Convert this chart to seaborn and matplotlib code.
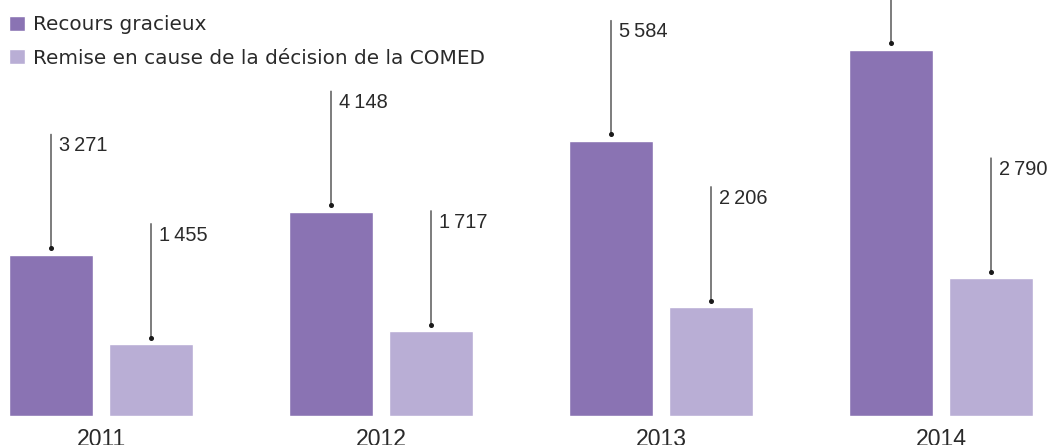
import numpy as np
import pandas as pd
import matplotlib
matplotlib.use("Agg")
import matplotlib.pyplot as plt
import matplotlib.transforms as mtransforms
import seaborn as sns

# ---- data ----
years = ["2011", "2012", "2013", "2014"]
series_names = ["Recours gracieux", "Remise en cause de la décision de la COMED"]
recours_gracieux = [3271, 4148, 5584, 7440]
remise_en_cause = [1455, 1717, 2206, 2790]
colors = ["#8a73b3", "#b9aed5"]

df = pd.DataFrame({
    "year": years * 2,
    "series": [series_names[0]] * 4 + [series_names[1]] * 4,
    "value": recours_gracieux + remise_en_cause,
})

sns.set_theme(style="white")
plt.rcParams["font.family"] = ["Liberation Sans", "DejaVu Sans"]
text_color = "#2a2a2a"

W, H = 1053, 445
fig = plt.figure(figsize=(W / 100, H / 100), dpi=100)
base_px = 415.7
ax = fig.add_axes([0, (H - base_px) / H, 1, base_px / H])

sns.barplot(data=df, x="year", y="value", hue="series", palette=colors,
            saturation=1, width=200 / 280, gap=0.16, ax=ax, errorbar=None)

ax.set_xlim(-101 / 280, (W - 101) / 280)
ax.set_ylim(0, base_px / 0.0492)
for s in ax.spines.values():
    s.set_visible(False)
ax.set_yticks([])
ax.set_xlabel("")
ax.set_ylabel("")
ax.tick_params(axis="x", length=0, pad=8.6, labelsize=16.6, labelcolor=text_color)

# value annotations: vertical leader line with a dot above each bar
dot_off = mtransforms.offset_copy(ax.transData, fig=fig, x=0, y=6.5, units="dots")
for cont in ax.containers:
    for bar in cont:
        x = bar.get_x() + bar.get_width() / 2
        h = bar.get_height()
        ax.annotate("", xy=(x, h), xytext=(0, 120.5), textcoords="offset pixels",
                    arrowprops=dict(arrowstyle="-", color="#1a1a1a", lw=0.8,
                                    shrinkA=0, shrinkB=6.5 * 72 / 100))
        ax.plot([x], [h], "o", ms=2.6, color="#1a1a1a", transform=dot_off,
                clip_on=False)
        label = f"{int(h):,}".replace(",", "\u2009")
        ax.annotate(label, xy=(x, h), xytext=(8, 118.5), textcoords="offset pixels",
                    ha="left", va="top", fontsize=14.4, color=text_color,
                    annotation_clip=False)

sns.move_legend(ax, "upper left", bbox_to_anchor=(9 / W, 1 - 15.5 / H),
                bbox_transform=fig.transFigure, title="", frameon=False,
                prop={"family": ["DejaVu Sans"], "size": 14.4},
                handlelength=0.78, handleheight=0.78,
                handletextpad=0.4, labelspacing=0.72, borderpad=0,
                borderaxespad=0, labelcolor=text_color)

fig.savefig("out.png", dpi=100)
